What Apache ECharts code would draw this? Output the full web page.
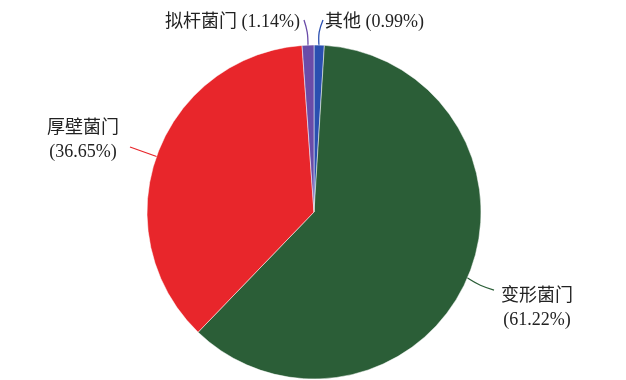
<!DOCTYPE html>
<html>
<head>
<meta charset="utf-8">
<script src="https://cdn.jsdelivr.net/npm/echarts@6/dist/echarts.min.js"></script>
<style>
  html, body { margin: 0; padding: 0; background: #fff; }
  #chart { width: 626px; height: 380px; }
</style>
</head>
<body>
<div id="chart"></div>
<script>
// 顺时针从正上方开始
const names = ['其他', '变形菌门', '厚壁菌门', '拟杆菌门']
const values = [0.99, 61.22, 36.65, 1.14]
const colors = ['#2a4fb0', '#2b5e37', '#e8262b', '#6a4ca8']
const twoLine = [false, true, true, false]
// 标签位置 (像素)
const labelPos = [
  { x: 325, y: 22, align: 'left' },
  { x: 537, y: 308, align: 'center' },
  { x: 83, y: 140, align: 'center' },
  { x: 300, y: 22, align: 'right' }
]
const linePts = [
  [[319, 46], [318, 32], [323, 20]],
  [[466, 277], [480, 286], [494, 290]],
  [[158, 157], [130, 147]],
  [[308, 46], [308, 32], [304, 20]]
]

const chart = echarts.init(document.getElementById('chart'))

const option = {
  animation: false,
  series: [
    {
      type: 'pie',
      center: [314, 212],
      radius: 167,
      startAngle: 90,
      clockwise: true,
      data: names.map((n, i) => ({
        name: n,
        value: values[i],
        itemStyle: { color: colors[i] },
        labelLine: { lineStyle: { color: colors[i], width: 1.3 } }
      })),
      itemStyle: { borderColor: '#ffffff', borderWidth: 0.5 },
      label: {
        show: true,
        color: '#222',
        fontSize: 18,
        lineHeight: 24,
        fontFamily: '"Liberation Serif", "Noto Sans CJK SC"',
        formatter: p => twoLine[p.dataIndex]
          ? p.name + '\n(' + values[p.dataIndex].toFixed(2) + '%)'
          : p.name + ' (' + values[p.dataIndex].toFixed(2) + '%)'
      },
      labelLine: { show: true, smooth: 0.4 },
      labelLayout: p => ({
        x: labelPos[p.dataIndex].x,
        y: labelPos[p.dataIndex].y,
        align: labelPos[p.dataIndex].align,
        verticalAlign: 'middle',
        labelLinePoints: linePts[p.dataIndex]
      })
    }
  ]
}

chart.setOption(option)
</script>
</body>
</html>
